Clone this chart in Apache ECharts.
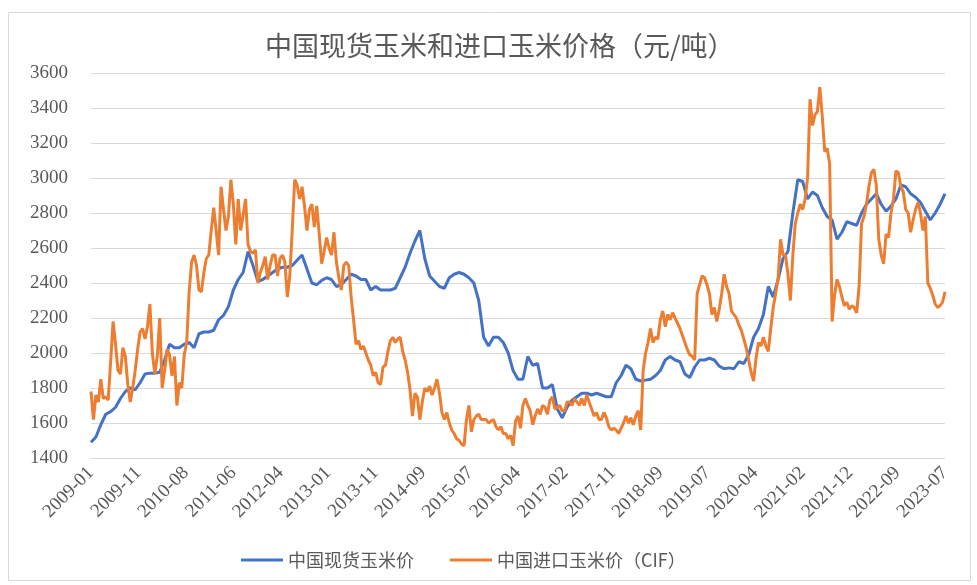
<!DOCTYPE html>
<html>
<head>
<meta charset="utf-8">
<title>中国现货玉米和进口玉米价格</title>
<script src="https://cdn.jsdelivr.net/npm/echarts@6/dist/echarts.min.js"></script>
<style>
    html, body { margin: 0; padding: 0; background: #fff; }
    #main { width: 977px; height: 585px; }
</style>
</head>
<body>
<div id="main"></div>
<script>
// x轴标签（等间距显示）
var tickLabels = ['2009-01','2009-11','2010-08','2011-06','2012-04','2013-01','2013-11','2014-09','2015-07','2016-04',
    '2017-02','2017-11','2018-09','2019-07','2020-04','2021-02','2021-12','2022-09','2023-07'];

// 中国现货玉米价，月度，2009-01 ~ 2023-07
var spotPrice = [
    1490,1520,1590,1650,1665,1690,1740,1780,1800,1790,1830,1880,1885,1885,1890,1960,2050,2030,2030,2050,2060,
    2030,2110,2120,2120,2130,2190,2215,2265,2360,2420,2460,2580,2500,2410,2420,2440,2460,2480,2490,2490,2500,2530,
    2560,2480,2400,2390,2415,2430,2420,2380,2390,2420,2450,2440,2420,2420,2360,2380,2360,2360,2360,2370,2430,
    2490,2570,2640,2700,2540,2440,2410,2380,2370,2430,2450,2460,2450,2430,2400,2300,2090,2040,2090,2090,2060,
    2000,1900,1850,1850,1980,1930,1940,1800,1800,1820,1680,1630,1690,1730,1750,1770,1770,1760,1770,1760,1750,1750,
    1830,1870,1930,1910,1850,1840,1845,1850,1870,1900,1960,1980,1960,1950,1880,1860,1920,1960,1960,1970,1960,
    1925,1910,1915,1910,1950,1940,1990,2090,2140,2220,2380,2320,2420,2540,2580,2800,2990,2980,2880,2920,2900,2830,
    2780,2760,2650,2690,2750,2740,2730,2800,2850,2880,2910,2850,2810,2840,2880,2960,2950,2910,2890,2860,2810,2760,2800,2850,2910
];

// 中国进口玉米价（CIF），半月度
var importPrice = [
    1780,1620,1760,1720,1850,1740,1750,1730,1950,2180,
    2050,1900,1880,2030,1980,1820,1720,1800,1900,2020,
    2120,2140,2080,2150,2280,2000,1880,1980,2200,1800,
    1900,2020,1990,1870,1980,1700,1830,1800,1990,2060,
    2350,2520,2560,2500,2360,2350,2460,2540,2560,2700,
    2830,2700,2560,2950,2820,2700,2780,2990,2850,2620,
    2880,2700,2790,2880,2620,2580,2570,2590,2400,2460,
    2500,2550,2420,2500,2560,2560,2440,2540,2560,2520,
    2320,2440,2700,2990,2960,2880,2950,2840,2700,2820,
    2850,2720,2840,2680,2510,2580,2660,2600,2560,2690,
    2520,2430,2360,2500,2520,2500,2320,2190,2050,2070,
    2020,2040,2000,1960,1930,1870,1890,1830,1820,1920,
    1930,2010,2070,2090,2060,2080,2090,2010,1960,1890,
    1790,1640,1770,1750,1620,1720,1800,1780,1810,1760,
    1800,1850,1770,1660,1620,1660,1600,1560,1540,1510,
    1500,1480,1470,1620,1700,1550,1620,1640,1650,1620,
    1620,1620,1600,1610,1620,1580,1560,1580,1540,1540,
    1510,1530,1470,1610,1640,1570,1700,1740,1700,1670,
    1590,1640,1680,1650,1700,1690,1650,1730,1750,1680,
    1690,1700,1670,1670,1720,1720,1700,1740,1720,1700,
    1740,1700,1760,1720,1680,1640,1660,1620,1620,1660,
    1630,1580,1560,1570,1560,1540,1570,1600,1640,1600,
    1630,1590,1640,1670,1560,1900,2000,2060,2140,2060,
    2090,2080,2190,2240,2150,2220,2190,2230,2200,2170,
    2140,2100,2060,2020,1990,1980,1960,2340,2390,2440,
    2430,2390,2340,2220,2260,2180,2250,2340,2450,2380,
    2340,2240,2220,2200,2160,2130,2080,2030,1960,1890,
    1840,1970,2060,2040,2090,2040,2010,2140,2260,2340,
    2430,2650,2560,2560,2450,2300,2560,2740,2800,2850,
    2820,2880,3000,3450,3300,3360,3380,3520,3350,3150,
    3170,3080,2180,2330,2420,2380,2320,2270,2290,2250,
    2270,2260,2230,2380,2740,2780,2850,2950,3030,3050,
    2960,2650,2560,2510,2680,2660,2800,2880,3040,3030,
    2950,2920,2820,2800,2690,2760,2820,2860,2800,2700,
    2780,2400,2370,2330,2280,2260,2270,2290,2350
];

var lastMonth = spotPrice.length - 1;   // 174
var step = lastMonth / (tickLabels.length - 1);

var spotData = spotPrice.map(function (v, i) { return [i, v]; });
var importData = importPrice.map(function (v, i) { return [i / 2, v]; });

var myChart = echarts.init(document.getElementById('main'));
var serif = '"Liberation Serif", "Times New Roman", serif';
var cjk = '"Noto Sans CJK SC", sans-serif';

var option = {
    animation: false,
    backgroundColor: '#fff',
    color: ['#4472C4', '#ED7D31'],
    graphic: [{
        type: 'rect',
        shape: { x: 8.5, y: 12.5, width: 962, height: 568 },
        style: { fill: 'none', stroke: '#d9d9d9', lineWidth: 1 },
        silent: true
    }],
    title: {
        text: '中国现货玉米和进口玉米价格（元/吨）',
        left: 260,
        top: 27,
        textStyle: { fontFamily: cjk, fontSize: 27, fontWeight: 'normal', color: '#595959' }
    },
    legend: {
        bottom: 11,
        left: 236,
        itemWidth: 42,
        itemHeight: 3,
        itemGap: 36,
        icon: 'rect',
        textStyle: { fontFamily: cjk, fontSize: 18, color: '#595959' },
        data: ['中国现货玉米价', '中国进口玉米价（CIF）']
    },
    grid: { left: 91, right: 32, top: 73, bottom: 127 },
    xAxis: {
        type: 'value',
        min: 0,
        max: lastMonth,
        splitLine: { show: false },
        axisLine: { show: false },
        axisTick: { show: false },
        axisLabel: {
            customValues: tickLabels.map(function (s, i) { return i * step; }),
            formatter: function (v) { return tickLabels[Math.round(v / step)]; },
            rotate: 45,
            margin: 12,
            fontFamily: serif,
            fontSize: 19,
            color: '#595959'
        }
    },
    yAxis: {
        type: 'value',
        min: 1400,
        max: 3600,
        interval: 200,
        axisLine: { show: false },
        axisTick: { show: false },
        splitLine: { lineStyle: { color: '#d9d9d9', width: 1 } },
        axisLabel: {
            formatter: function (v) { return String(v); },
            fontFamily: serif,
            fontSize: 19,
            color: '#595959',
            margin: 23
        }
    },
    series: [
        {
            name: '中国现货玉米价',
            type: 'line',
            showSymbol: false,
            lineStyle: { width: 3 },
            data: spotData
        },
        {
            name: '中国进口玉米价（CIF）',
            type: 'line',
            showSymbol: false,
            lineStyle: { width: 3 },
            data: importData
        }
    ]
};
myChart.setOption(option);
</script>
</body>
</html>
